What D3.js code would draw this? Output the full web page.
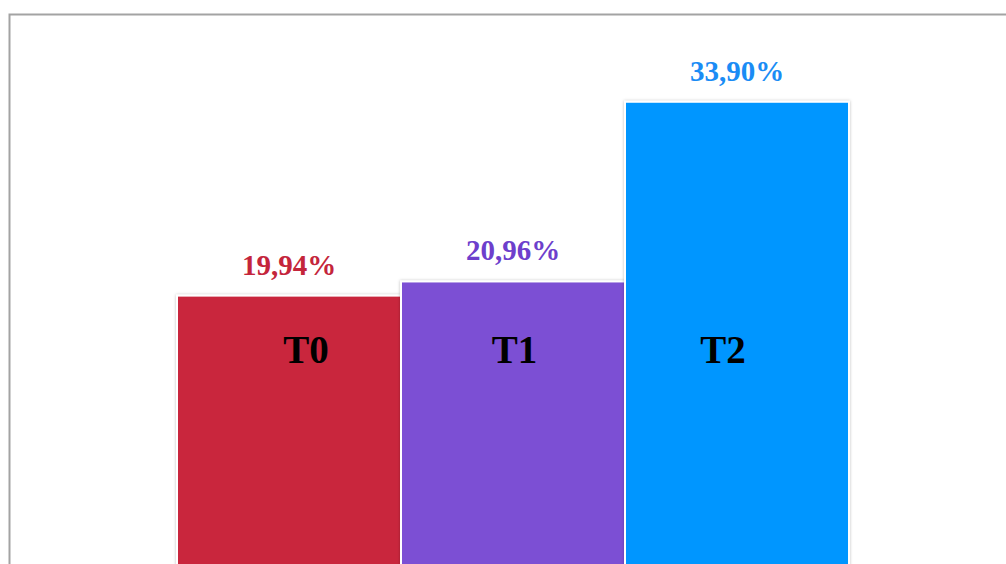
<!DOCTYPE html>
<html>
<head>
<meta charset="utf-8">
<script src="https://cdn.jsdelivr.net/npm/d3@7"></script>
<style>
  body { margin: 0; background: #fff; }
  svg { display: block; }
</style>
</head>
<body>
<svg id="viz"></svg>
<script>
// chart data
var categories = ['T0', 'T1', 'T2'];
var values = [19.94, 20.96, 33.90];
var valueLabels = ['19,94%', '20,96%', '33,90%'];
var barColors = ['#c9273d', '#7b4fd4', '#0096ff'];
var textColors = ['#c4253b', '#6d3fcc', '#1a8cf5'];

var width = 1006, height = 564;

var svg = d3.select('#viz').attr('width', width).attr('height', height);

// soft shadow around bars
var defs = svg.append('defs');
var f = defs.append('filter').attr('id', 'shadow')
  .attr('x', '-5%').attr('y', '-5%').attr('width', '110%').attr('height', '110%');
f.append('feDropShadow')
  .attr('dx', 0).attr('dy', 0)
  .attr('stdDeviation', 1.6)
  .attr('flood-color', '#000')
  .attr('flood-opacity', 0.25);

// frame
svg.append('rect')
  .attr('x', 9.5).attr('y', 14.5)
  .attr('width', 1100).attr('height', 700)
  .attr('fill', 'none')
  .attr('stroke', '#a3a3a3')
  .attr('stroke-width', 2);

var x = d3.scaleBand().domain(categories).range([177, 849]).padding(0);
var y = d3.scaleLinear().domain([0, 35]).range([572.5, 86.5]);
// inner category labels are not centred on the bars in the original
var xLabel = d3.scalePoint().domain(categories).range([306, 723]);

var data = categories.map(function (c, i) {
  return { cat: c, v: values[i], label: valueLabels[i], color: barColors[i], tcolor: textColors[i] };
});

svg.selectAll('rect.bar')
  .data(data)
  .enter()
  .append('rect')
  .attr('class', 'bar')
  .attr('x', function (d) { return x(d.cat); })
  .attr('y', function (d) { return y(d.v); })
  .attr('width', x.bandwidth())
  .attr('height', function (d) { return y(0) - y(d.v); })
  .attr('fill', function (d) { return d.color; })
  .attr('stroke', '#fff')
  .attr('stroke-width', 2)
  .attr('filter', 'url(#shadow)');

svg.selectAll('text.val')
  .data(data)
  .enter()
  .append('text')
  .attr('class', 'val')
  .attr('x', function (d) { return x(d.cat) + x.bandwidth() / 2; })
  .attr('y', function (d) { return y(d.v) - 21; })
  .attr('text-anchor', 'middle')
  .style('font-family', '"Liberation Serif", "Times New Roman", serif')
  .style('font-weight', 'bold')
  .style('font-size', '29px')
  .style('fill', function (d) { return d.tcolor; })
  .text(function (d) { return d.label; });

svg.selectAll('text.cat')
  .data(data)
  .enter()
  .append('text')
  .attr('class', 'cat')
  .attr('x', function (d) { return xLabel(d.cat); })
  .attr('y', 362.5)
  .attr('text-anchor', 'middle')
  .style('font-family', '"Liberation Serif", "Times New Roman", serif')
  .style('font-weight', 'bold')
  .style('font-size', '39px')
  .style('fill', '#000')
  .text(function (d) { return d.cat; });
</script>
</body>
</html>
